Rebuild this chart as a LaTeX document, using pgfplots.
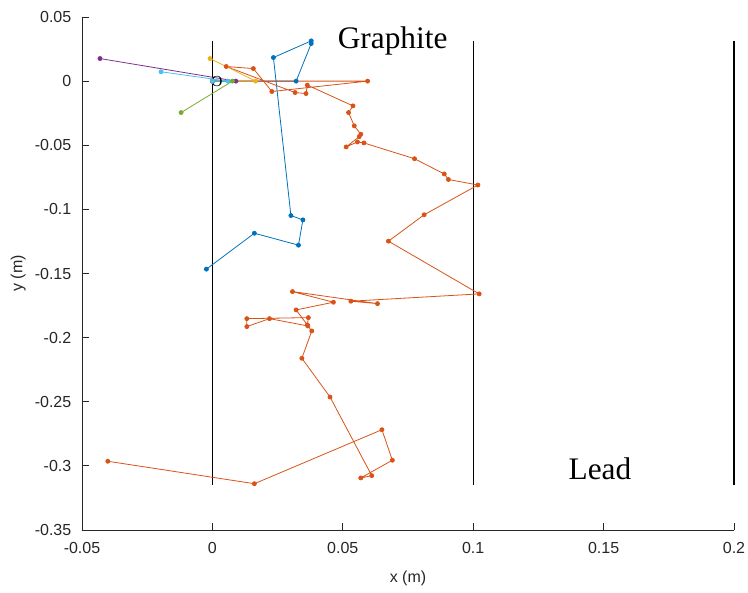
\documentclass[border=0pt]{standalone}
\usepackage{fontspec}
\setmainfont{Liberation Sans}
\newfontfamily\timesfont{Liberation Serif}
\usepackage{pgfplots}
\pgfplotsset{compat=1.18}
\definecolor{mBlue}{rgb}{0,0.447,0.741}
\definecolor{mOrange}{rgb}{0.850,0.325,0.098}
\definecolor{mYellow}{rgb}{0.929,0.694,0.125}
\definecolor{mPurple}{rgb}{0.494,0.184,0.556}
\definecolor{mGreen}{rgb}{0.466,0.674,0.188}
\definecolor{mCyan}{rgb}{0.301,0.745,0.933}
\definecolor{axgray}{HTML}{262626}

\begin{document}
\begin{tikzpicture}
\begin{axis}[
  scale only axis,
  width=489pt, height=384.75pt,
  xmin=-0.05, xmax=0.2, ymin=-0.35, ymax=0.05,
  axis x line=bottom, axis y line=left,
  axis line style={-, axgray, line width=0.6pt},
  xtick={-0.05,0,0.05,0.1,0.15,0.2},
  ytick={-0.35,-0.3,-0.25,-0.2,-0.15,-0.1,-0.05,0,0.05},
  xticklabels={-0.05,0,0.05,0.1,0.15,0.2},
  yticklabels={-0.35,-0.3,-0.25,-0.2,-0.15,-0.1,-0.05,0,0.05},
  tick align=inside, major tick length=5pt,
  tick style={axgray, line width=0.6pt},
  ticklabel style={font=\fontsize{12}{14}\selectfont, text=axgray},
  xticklabel style={yshift=-6pt},
  yticklabel style={xshift=-4.5pt},
  xlabel={x (m)}, ylabel={y (m)},
  label style={font=\fontsize{12}{14}\selectfont, text=axgray},
  xlabel style={yshift=-6pt},
  ylabel style={yshift=0pt},
  clip=false,
  every axis plot/.append style={line width=0.6pt, mark=*, mark size=1.5pt},
]
% target boundaries
\addplot[black, line width=0.8pt, mark=none] coordinates {(0,0.0314) (0,-0.315)};
\addplot[black, line width=0.9pt, mark=none] coordinates {(0.1,0.0314) (0.1,-0.315)};
\addplot[black, line width=0.9pt, mark=none] coordinates {(0.2,0.0314) (0.2,-0.315)};

% tracks
\addplot[mBlue] coordinates {
(0,0) (0.0321,0) (0.0379,0.0293) (0.0379,0.0314) (0.0234,0.0184)
(0.0301,-0.1048) (0.0347,-0.1082) (0.0330,-0.1279) (0.0161,-0.1186) (-0.0023,-0.1466)};
\addplot[mOrange] coordinates {
(0,0) (0.0595,0) (0.0228,-0.0081) (0.0157,0.0098) (0.0053,0.0114)
(0.0317,-0.0089) (0.0359,-0.0097) (0.0364,-0.0031) (0.0539,-0.0193) (0.0522,-0.0245)
(0.0544,-0.0349) (0.0569,-0.0414) (0.0563,-0.0433) (0.0513,-0.0513) (0.0556,-0.0474)
(0.0581,-0.0482) (0.0775,-0.0605) (0.0889,-0.0724) (0.0905,-0.0767) (0.1018,-0.0810)
(0.0812,-0.1042) (0.0675,-0.1248) (0.1023,-0.1659) (0.0531,-0.1716) (0.0633,-0.1735)
(0.0307,-0.1641) (0.0464,-0.1724) (0.0321,-0.1784) (0.0364,-0.1901) (0.0368,-0.1844)
(0.0132,-0.1852) (0.0132,-0.1914) (0.0219,-0.1852) (0.0366,-0.1909) (0.0381,-0.1948)
(0.0343,-0.2161) (0.0451,-0.2463) (0.0611,-0.3076) (0.0569,-0.3094) (0.0690,-0.2956)
(0.0650,-0.2718) (0.0161,-0.3139) (-0.0401,-0.2964)};
\addplot[mYellow] coordinates {(0,0) (0.0166,0) (-0.0009,0.0176)};
\addplot[mPurple] coordinates {(0,0) (0.0090,0) (-0.0431,0.0176)};
\addplot[mGreen] coordinates {(0,0) (0.0077,0) (-0.0120,-0.0245)};
\addplot[mCyan] coordinates {(0,0) (0.0059,0) (-0.0197,0.0073)};

\node[anchor=center, inner sep=0pt, font=\timesfont\fontsize{11.5}{12}\selectfont] at (axis cs:0.0017,0) {O};
\node[anchor=base west, inner sep=0pt, font=\timesfont\fontsize{23.5}{26}\selectfont] at (axis cs:0.048,0.0252) {Graphite};
\node[anchor=base west, inner sep=0pt, font=\timesfont\fontsize{23.5}{26}\selectfont] at (axis cs:0.1365,-0.311) {Lead};
\end{axis}
\pgfresetboundingbox
\path[use as bounding box] (-61.5pt,-46.5pt) rectangle (499.5pt,397.5pt);
\end{tikzpicture}
\end{document}
